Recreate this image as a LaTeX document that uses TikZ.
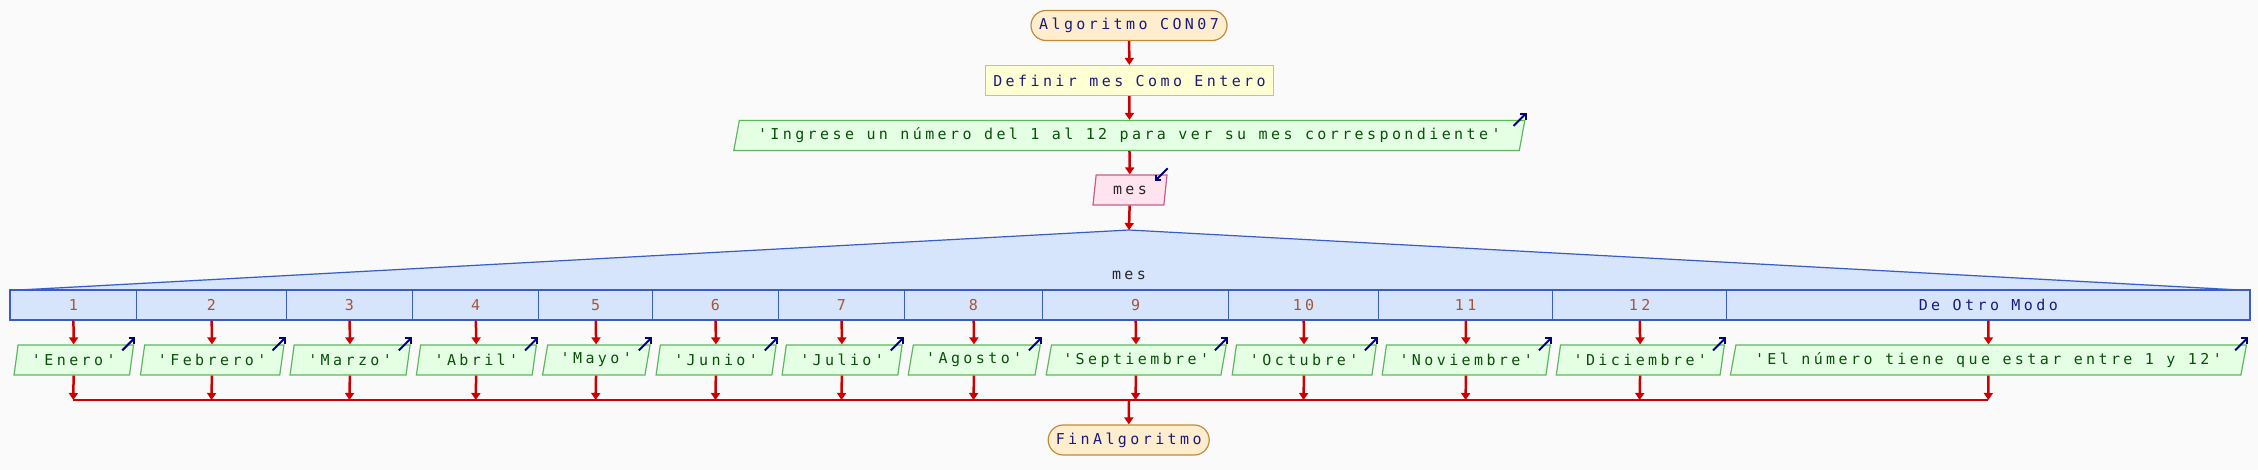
\documentclass[tikz,border=0pt]{standalone}
\usepackage{fontspec}
\setmonofont{DejaVu Sans Mono}[LetterSpace=22.7]
\usetikzlibrary{shapes.geometric,arrows.meta}

\definecolor{fondo}{RGB}{250,250,250}
\definecolor{rojo}{RGB}{204,0,0}
\definecolor{azulosc}{RGB}{0,0,128}
\definecolor{textoazul}{RGB}{26,26,128}
\definecolor{termfondo}{RGB}{255,238,206}
\definecolor{termborde}{RGB}{192,138,58}
\definecolor{procfondo}{RGB}{255,255,212}
\definecolor{procborde}{RGB}{212,196,90}
\definecolor{salfondo}{RGB}{228,255,228}
\definecolor{salborde}{RGB}{92,184,92}
\definecolor{saltexto}{RGB}{10,80,10}
\definecolor{entfondo}{RGB}{255,228,240}
\definecolor{entborde}{RGB}{192,96,138}
\definecolor{segfondo}{RGB}{214,228,252}
\definecolor{segborde}{RGB}{58,92,200}
\definecolor{casotexto}{RGB}{165,85,55}

\begin{document}
\begin{tikzpicture}[x=1pt,y=-1pt,
	font=\ttfamily\fontsize{15pt}{17pt}\selectfont,
	flujo/.style={draw=rojo, line width=2.5pt, -{Triangle[width=9pt,length=7pt]}},
	icono/.style={draw=azulosc, line width=2pt, -{Straight Barb[length=4pt,width=8pt]}},
	terminal/.style={rectangle, rounded corners=15pt, draw=termborde, fill=termfondo, text=textoazul, line width=1.2pt, minimum height=30pt, inner sep=0pt},
	proceso/.style={rectangle, draw=procborde, fill=procfondo, text=textoazul, line width=1.2pt, minimum height=30pt, inner sep=0pt},
	salida/.style={trapezium, trapezium left angle=70, trapezium right angle=110, trapezium stretches body, draw=salborde, fill=salfondo, text=saltexto, line width=1.2pt, minimum height=30pt, inner xsep=2pt, inner ysep=0pt},
	entrada/.style={salida, draw=entborde, fill=entfondo, text=black!85},
	caso/.style={rectangle, draw=segborde, fill=segfondo, text=casotexto, line width=1.2pt, minimum height=30pt, inner sep=0pt}]

	\fill[fondo] (0,0) rectangle (2258,470);
	\useasboundingbox (0,0) rectangle (2258,470);

	\node[terminal, minimum width=196pt] (inicio) at (1129,25.5) {Algoritmo CON07};
	\node[proceso, minimum width=288pt] (definir) at (1129.5,80.5) {Definir mes Como Entero};
	\node[salida, minimum width=791pt] (pregunta) at (1129.3,135.5) {'Ingrese un número del 1 al 12 para ver su mes correspondiente'};
	\node[entrada, minimum width=74pt] (leer) at (1130,190) {mes};
	\draw (inicio) edge[flujo] (definir);
	\draw (definir) edge[flujo] (pregunta);
	\draw (pregunta) edge[flujo] (leer);
	\draw[icono] ([shift={(-12,6)}]pregunta.top right corner) -- ++(13,-13);
	\draw[icono] ([shift={(0,-6)}]leer.top right corner) -- ++(-13,13);

	% cabecera del segun
	\coordinate (tope) at (1129,230);
	\fill[segfondo] (10,290) -- (20,289) -- (tope) -- (2239,289) -- (2250,290) -- cycle;
	\draw[segborde, line width=1.2pt] (20,290) -- (tope) -- (2239,290);
	\node[text=black!85] (var) at (1129,275) {mes};
	\draw (leer) edge[flujo] (tope);

	\node[caso, minimum width=126.6pt] (c1) at (73.3,305) {1};
	\node[caso, minimum width=149.7pt] (c2) at (211.45,305) {2};
	\node[caso, minimum width=126.3pt] (c3) at (349.45,305) {3};
	\node[caso, minimum width=126.2pt] (c4) at (475.7,305) {4};
	\node[caso, minimum width=113.6pt] (c5) at (595.6,305) {5};
	\node[caso, minimum width=126pt] (c6) at (715.4,305) {6};
	\node[caso, minimum width=126.1pt] (c7) at (841.45,305) {7};
	\node[caso, minimum width=138pt] (c8) at (973.5,305) {8};
	\node[caso, minimum width=186pt] (c9) at (1135.5,305) {9};
	\node[caso, minimum width=150pt] (c10) at (1303.5,305) {10};
	\node[caso, minimum width=174.1pt] (c11) at (1465.55,305) {11};
	\node[caso, minimum width=174pt] (c12) at (1639.6,305) {12};
	\node[caso, minimum width=523.4pt, text=textoazul] (c13) at (1988.3,305) {De Otro Modo};

	% salidas de cada caso
	\node[salida, minimum width=119.5pt] (o1) at (73.8,360) {'Enero'};
	\node[salida, minimum width=143.5pt] (o2) at (212.2,360) {'Febrero'};
	\node[salida, minimum width=120pt] (o3) at (350.1,360) {'Marzo'};
	\node[salida, minimum width=120pt] (o4) at (476.4,360) {'Abril'};
	\node[salida, minimum width=107.5pt] (o5) at (596.3,360) {'Mayo'};
	\node[salida, minimum width=120pt] (o6) at (716.1,360) {'Junio'};
	\node[salida, minimum width=120pt] (o7) at (842.1,360) {'Julio'};
	\node[salida, minimum width=132pt] (o8) at (974.2,360) {'Agosto'};
	\node[salida, minimum width=180pt] (o9) at (1136.2,360) {'Septiembre'};
	\node[salida, minimum width=144pt] (o10) at (1304.2,360) {'Octubre'};
	\node[salida, minimum width=168pt] (o11) at (1466.2,360) {'Noviembre'};
	\node[salida, minimum width=168pt] (o12) at (1640.3,360) {'Diciembre'};
	\node[salida, minimum width=516pt] (o13) at (1988.4,360) {'El número tiene que estar entre 1 y 12'};

	\draw (c1) edge[flujo] (o1);
	\draw (c2) edge[flujo] (o2);
	\draw (c3) edge[flujo] (o3);
	\draw (c4) edge[flujo] (o4);
	\draw (c5) edge[flujo] (o5);
	\draw (c6) edge[flujo] (o6);
	\draw (c7) edge[flujo] (o7);
	\draw (c8) edge[flujo] (o8);
	\draw (c9) edge[flujo] (o9);
	\draw (c10) edge[flujo] (o10);
	\draw (c11) edge[flujo] (o11);
	\draw (c12) edge[flujo] (o12);
	\draw (c13) edge[flujo] (o13);

	\draw[icono] ([shift={(-12,6)}]o1.top right corner) -- ++(13,-13);
	\draw[icono] ([shift={(-12,6)}]o2.top right corner) -- ++(13,-13);
	\draw[icono] ([shift={(-12,6)}]o3.top right corner) -- ++(13,-13);
	\draw[icono] ([shift={(-12,6)}]o4.top right corner) -- ++(13,-13);
	\draw[icono] ([shift={(-12,6)}]o5.top right corner) -- ++(13,-13);
	\draw[icono] ([shift={(-12,6)}]o6.top right corner) -- ++(13,-13);
	\draw[icono] ([shift={(-12,6)}]o7.top right corner) -- ++(13,-13);
	\draw[icono] ([shift={(-12,6)}]o8.top right corner) -- ++(13,-13);
	\draw[icono] ([shift={(-12,6)}]o9.top right corner) -- ++(13,-13);
	\draw[icono] ([shift={(-12,6)}]o10.top right corner) -- ++(13,-13);
	\draw[icono] ([shift={(-12,6)}]o11.top right corner) -- ++(13,-13);
	\draw[icono] ([shift={(-12,6)}]o12.top right corner) -- ++(13,-13);
	\draw[icono] ([shift={(-12,6)}]o13.top right corner) -- ++(13,-13);

	% union de los casos
	\coordinate (m1) at (73.3,400);
	\coordinate (m2) at (211.45,400);
	\coordinate (m3) at (349.45,400);
	\coordinate (m4) at (475.7,400);
	\coordinate (m5) at (595.6,400);
	\coordinate (m6) at (715.4,400);
	\coordinate (m7) at (841.45,400);
	\coordinate (m8) at (973.5,400);
	\coordinate (m9) at (1135.5,400);
	\coordinate (m10) at (1303.5,400);
	\coordinate (m11) at (1465.55,400);
	\coordinate (m12) at (1639.6,400);
	\coordinate (m13) at (1988.3,400);
	\coordinate (junta) at (1129,400);

	\draw (o1) edge[flujo] (m1);
	\draw (o2) edge[flujo] (m2);
	\draw (o3) edge[flujo] (m3);
	\draw (o4) edge[flujo] (m4);
	\draw (o5) edge[flujo] (m5);
	\draw (o6) edge[flujo] (m6);
	\draw (o7) edge[flujo] (m7);
	\draw (o8) edge[flujo] (m8);
	\draw (o9) edge[flujo] (m9);
	\draw (o10) edge[flujo] (m10);
	\draw (o11) edge[flujo] (m11);
	\draw (o12) edge[flujo] (m12);
	\draw (o13) edge[flujo] (m13);
	\draw[draw=rojo, line width=2.5pt] (m1) -- (m13);

	\node[terminal, minimum width=161pt] (fin) at (1128.7,440) {FinAlgoritmo};
	\draw (junta) edge[flujo] (fin);

\end{tikzpicture}
\end{document}
